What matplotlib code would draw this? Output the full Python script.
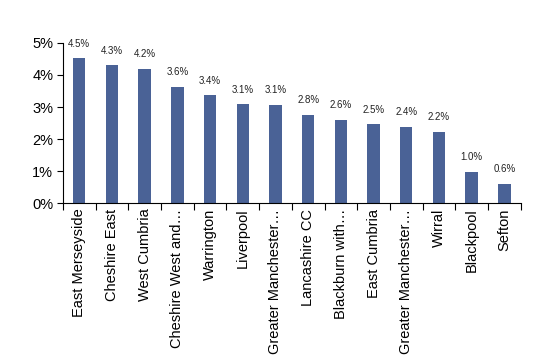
import matplotlib
matplotlib.use("Agg")
import matplotlib.pyplot as plt
from matplotlib.ticker import FuncFormatter, FixedLocator

plt.rcParams['font.family'] = ['Liberation Sans', 'DejaVu Sans']

categories = ["East Merseyside", "Cheshire East", "West Cumbria", "Cheshire West and\u2026",
              "Warrington", "Liverpool", "Greater Manchester\u2026", "Lancashire CC",
              "Blackburn with\u2026", "East Cumbria", "Greater Manchester\u2026", "Wirral",
              "Blackpool", "Sefton"]
values = [4.52, 4.30, 4.20, 3.63, 3.36, 3.08, 3.06, 2.76, 2.59, 2.46, 2.39, 2.23, 0.98, 0.60]
yticks = [0, 1, 2, 3, 4, 5]

fig = plt.figure(figsize=(5.47, 3.64), dpi=100)
ax = fig.add_axes([0.115, 0.442, 0.837, 0.44])

x = list(range(len(categories)))
ax.bar(x, values, width=0.38, color="#4A6296", zorder=2)
for xi, v in zip(x, values):
    ax.annotate(f"{v:.1f}%", (xi, v), xytext=(0, 7), textcoords="offset points",
                ha="center", va="bottom", fontsize=7, color="#222222")

ax.set_xlim(-0.5, len(categories) - 0.5)
ax.set_ylim(0, 5)
ax.set_yticks(yticks)
ax.yaxis.set_major_formatter(FuncFormatter(lambda v, p: f"{v:.0f}%"))
ax.set_xticks(x)
ax.set_xticklabels(categories, rotation=90, fontsize=10.5)
ax.tick_params(axis='x', length=0, pad=4)
ax.tick_params(axis='y', labelsize=10.5, length=4, direction='out', width=0.8, pad=3)
ax.xaxis.set_minor_locator(FixedLocator([i - 0.5 for i in range(len(categories) + 1)]))
ax.tick_params(axis='x', which='minor', length=5, direction='out', width=0.8)

for s in ["top", "right"]:
    ax.spines[s].set_visible(False)
for s in ["left", "bottom"]:
    ax.spines[s].set_linewidth(0.8)
    ax.spines[s].set_color("#000000")

fig.savefig("out.png", dpi=100)
